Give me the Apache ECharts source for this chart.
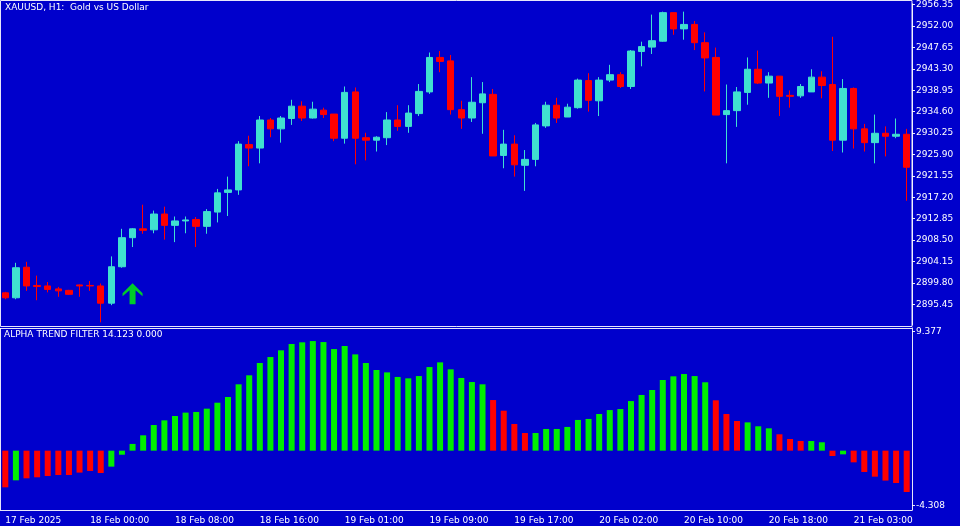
<!DOCTYPE html>
<html><head><meta charset="utf-8">
<script src="https://cdn.jsdelivr.net/npm/echarts@6/dist/echarts.min.js"></script>
<style>html,body{margin:0;padding:0;background:#0000cc}#c{width:960px;height:526px}</style>
</head><body><div id="c"></div>
<script>
// candles: [open, close, low, high]
const candles = [
[2897.8,2896.8,2896.5,2898.0],[2896.8,2902.9,2896.5,2903.9],[2903.0,2899.2,2898.2,2904.1],[2899.3,2899.1,2896.3,2901.3],
[2899.2,2898.5,2897.9,2900.0],[2898.6,2898.2,2897.0,2899.0],[2898.3,2897.5,2897.4,2898.4],[2899.4,2899.2,2897.0,2899.5],
[2899.3,2899.2,2898.2,2900.2],[2899.2,2895.7,2891.8,2899.7],[2895.7,2903.1,2895.3,2905.2],[2903.1,2909.0,2902.9,2910.8],
[2909.0,2910.8,2907.1,2910.9],[2910.8,2910.5,2909.8,2915.7],[2910.6,2913.8,2909.9,2914.5],[2913.8,2911.5,2908.6,2915.3],
[2911.5,2912.4,2908.1,2913.3],[2912.4,2912.6,2909.9,2913.3],[2912.7,2911.3,2907.1,2913.2],[2911.3,2914.3,2909.8,2914.8],
[2914.2,2918.1,2912.1,2918.9],[2918.2,2918.7,2913.4,2921.4],[2918.7,2928.0,2917.7,2928.6],[2927.9,2927.2,2923.5,2929.7],
[2927.2,2932.9,2924.1,2933.7],[2932.9,2931.1,2929.4,2933.3],[2931.1,2933.3,2928.3,2933.7],[2933.2,2935.7,2931.9,2937.0],
[2935.7,2933.3,2932.7,2936.7],[2933.3,2935.1,2933.2,2936.6],[2934.9,2934.0,2933.3,2935.4],[2934.1,2929.2,2928.6,2934.1],
[2929.2,2938.5,2928.1,2939.7],[2938.6,2929.2,2923.9,2939.5],[2929.3,2928.8,2924.7,2930.3],[2928.8,2929.4,2926.5,2929.6],
[2929.3,2932.9,2927.8,2934.5],[2932.9,2931.6,2930.7,2935.9],[2931.6,2934.3,2930.3,2935.9],[2934.2,2938.7,2933.7,2940.2],
[2938.6,2945.6,2938.2,2946.6],[2945.6,2944.8,2942.6,2946.9],[2944.9,2935.0,2934.0,2946.1],[2935.0,2933.3,2931.1,2936.8],
[2933.3,2936.5,2932.5,2941.6],[2936.4,2938.2,2930.1,2940.6],[2938.1,2925.6,2925.6,2939.2],[2925.7,2928.0,2923.1,2930.9],
[2928.0,2923.8,2921.4,2929.8],[2923.7,2924.9,2918.5,2926.8],[2924.9,2931.9,2923.5,2932.3],[2931.7,2935.9,2931.3,2936.6],
[2935.9,2933.3,2932.3,2937.4],[2933.5,2935.5,2933.5,2936.2],[2935.4,2941.0,2935.2,2941.3],[2940.9,2936.9,2934.6,2942.4],
[2936.8,2941.0,2933.7,2941.6],[2941.0,2942.1,2940.6,2944.1],[2942.1,2939.7,2939.4,2942.6],[2939.7,2946.9,2939.2,2947.1],
[2946.8,2947.8,2943.8,2948.8],[2947.7,2949.0,2946.3,2954.3],[2948.9,2954.7,2948.8,2954.9],[2954.7,2951.4,2950.2,2954.7],
[2951.4,2952.3,2949.2,2954.9],[2952.3,2948.6,2947.1,2953.0],[2948.6,2945.5,2938.7,2950.7],[2945.6,2933.9,2933.9,2947.6],
[2934.0,2934.8,2924.1,2940.1],[2934.8,2938.6,2931.5,2939.6],[2938.5,2943.2,2936.0,2945.6],[2943.2,2940.4,2940.2,2947.0],
[2940.4,2941.8,2937.4,2942.6],[2941.8,2937.7,2933.7,2941.8],[2937.9,2937.7,2935.4,2938.9],[2937.8,2939.7,2937.4,2940.2],
[2938.6,2941.6,2938.6,2943.2],[2941.6,2939.9,2937.3,2942.8],[2940.1,2928.8,2926.6,2949.8],[2928.8,2939.3,2926.3,2941.2],
[2939.3,2931.1,2927.1,2939.5],[2931.1,2928.3,2926.5,2932.1],[2928.3,2930.2,2924.1,2934.0],[2930.2,2929.6,2925.5,2931.6],
[2929.6,2930.0,2929.2,2933.2],[2930.0,2923.3,2916.5,2931.1]
];
const trendValues = [
-2.89,-2.34,-2.18,-2.10,-2.00,-1.92,-1.92,-1.73,-1.60,-1.76,-1.26,-0.32,0.53,1.21,2.02,2.39,2.73,3.00,3.05,3.31,
3.78,4.23,5.23,5.94,6.91,7.38,7.91,8.41,8.54,8.64,8.56,8.01,8.25,7.59,6.91,6.36,6.17,5.81,5.70,5.88,
6.59,6.96,6.41,5.73,5.41,5.23,3.99,3.15,2.10,1.39,1.39,1.71,1.71,1.87,2.42,2.50,2.89,3.20,3.28,3.91,
4.39,4.78,5.57,5.86,6.04,5.88,5.39,3.97,2.89,2.34,2.23,1.92,1.76,1.29,0.92,0.76,0.76,0.66,-0.42,-0.29,
-0.92,-1.68,-2.05,-2.36,-2.55,-3.26
];
// 1 = green, 0 = red
const trendColor = [
0,1,0,0,0,0,0,0,0,0,1,1,1,1,1,1,1,1,1,1,1,1,1,1,1,1,1,1,1,1,1,1,1,1,1,1,1,1,1,1,
1,1,1,1,1,1,0,0,0,0,1,1,1,1,1,1,1,1,1,1,1,1,1,1,1,1,1,0,0,0,1,1,1,0,0,0,1,1,0,1,
0,0,0,0,0,0
];
const tickLabels = {0:'17 Feb 2025',8:'18 Feb 00:00',16:'18 Feb 08:00',24:'18 Feb 16:00',32:'19 Feb 01:00',
 40:'19 Feb 09:00',48:'19 Feb 17:00',56:'20 Feb 02:00',64:'20 Feb 10:00',72:'20 Feb 18:00',80:'21 Feb 03:00'};
const priceTicks = [2956.35,2952.00,2947.65,2943.30,2938.95,2934.60,2930.25,2925.90,2921.55,2917.20,2912.85,2908.50,2904.15,2899.80,2895.45];
const trendTicks = [9.377,-4.308];
const arrowSignals = [[12, 2897.6]];

const cats = candles.map((_, i) => String(i));
const font = {fontFamily:'DejaVu Sans', fontSize:9, color:'#ffffff'};
const W = 'rgba(255,255,255,0.9)';
const chart = echarts.init(document.getElementById('c'));
chart.setOption({
  backgroundColor:'#0000cc', animation:false,
  grid:[{left:-1,width:913,top:2,height:323},{left:-1,width:913,top:328,height:182}],
  xAxis:[
    {type:'category',data:cats,gridIndex:0,axisLine:{show:false},axisTick:{show:false},axisLabel:{show:false}},
    {type:'category',data:cats,gridIndex:1,axisLine:{onZero:false,lineStyle:{color:W}},
      axisTick:{alignWithLabel:true,length:3,interval:(i)=>tickLabels[i]!==undefined,lineStyle:{color:W}},
      axisLabel:{...font,align:'left',margin:6,interval:(i)=>tickLabels[i]!==undefined,formatter:(v)=>tickLabels[+v]||''}}
  ],
  yAxis:[
    {type:'value',gridIndex:0,position:'right',min:2891.27,max:2956.49,splitLine:{show:false},
      axisLine:{show:true,lineStyle:{color:W}},
      axisTick:{show:true,length:3,customValues:priceTicks,lineStyle:{color:W}},
      axisLabel:{...font,margin:4,customValues:priceTicks,formatter:(v)=>v.toFixed(2)}},
    {type:'value',gridIndex:1,position:'right',min:-4.678,max:9.669,splitLine:{show:false},
      axisLine:{show:true,lineStyle:{color:W}},
      axisTick:{show:true,length:3,customValues:trendTicks,lineStyle:{color:W}},
      axisLabel:{...font,margin:4,customValues:trendTicks,formatter:(v)=>v.toFixed(3)}}
  ],
  graphic:[
    {type:'rect',shape:{x:0.5,y:0.5,width:911.5,height:326},style:{fill:'none',stroke:W,lineWidth:1},silent:true},
    {type:'line',shape:{x1:0,y1:328.5,x2:912,y2:328.5},style:{stroke:W,lineWidth:1}},
    {type:'line',shape:{x1:0.5,y1:328,x2:0.5,y2:510},style:{stroke:W,lineWidth:1}},
    {type:'text',left:5,top:3,style:{text:'XAUUSD, H1:  Gold vs US Dollar',fill:'#fff',font:'9px "DejaVu Sans"'}},
    {type:'text',left:4,top:330,style:{text:'ALPHA TREND FILTER 14.123 0.000',fill:'#fff',font:'9px "DejaVu Sans"'}}
  ],
  series:[
    {type:'candlestick',xAxisIndex:0,yAxisIndex:0,data:candles,barWidth:7,
      itemStyle:{color:'#40e0d0',color0:'#ff0000',borderColor:'#40e0d0',borderColor0:'#ff0000',borderWidth:1}},
    {type:'scatter',xAxisIndex:0,yAxisIndex:0,data:arrowSignals,symbolSize:[20,21],
      symbol:'path://M10 0 L20 10 L20 13 L13 7 L13 21 L7 21 L7 7 L0 13 L0 10 Z',itemStyle:{color:'#00ff00'}},
    {type:'bar',xAxisIndex:1,yAxisIndex:1,barWidth:6,
      data:trendValues.map((v,i)=>({value:v,itemStyle:{color:trendColor[i]?'#00ee00':'#ff0000'}}))}
  ]
});
</script></body></html>
